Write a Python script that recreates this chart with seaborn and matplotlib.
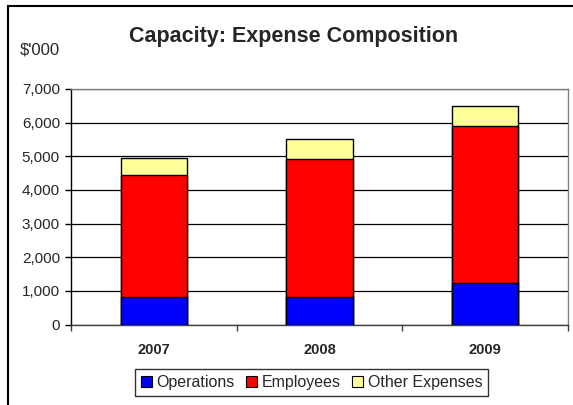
import matplotlib
matplotlib.use("Agg")
import matplotlib.pyplot as plt
import seaborn as sns
import pandas as pd
import numpy as np
from matplotlib.patches import Rectangle, Patch

years = ["2007", "2008", "2009"]
operations = [830, 830, 1230]
employees = [3610, 4090, 4670]
other_expenses = [520, 590, 600]
series_names = ["Operations", "Employees", "Other Expenses"]
colors = ["#0000FF", "#FF0000", "#FFFF99"]
yticks = [0, 1000, 2000, 3000, 4000, 5000, 6000, 7000]

sns.set_theme(style="white")
plt.rcParams["font.family"] = ["Liberation Sans", "DejaVu Sans"]

ops = np.array(operations)
emp = np.array(employees)
oth = np.array(other_expenses)
df = pd.DataFrame({
    "year": years,
    "Operations": ops,
    "Employees": ops + emp,
    "Other Expenses": ops + emp + oth,
})

fig = plt.figure(figsize=(5.73, 4.05), dpi=100)
ax = fig.add_axes([71/573, 1-324.5/405, (568-71)/573, (324.5-89)/405])

# stacked via overlay of cumulative totals (top-most first)
for name, col in zip(reversed(series_names), reversed(colors)):
    sns.barplot(data=df, x="year", y=name, color=col, width=0.40,
                edgecolor="black", linewidth=1.0, saturation=1, ax=ax, zorder=3)

ax.set_xlim(-0.5, 2.5)
ax.set_ylim(0, 7000)
ax.set_yticks(yticks)
ax.set_yticklabels([f"{v:,}" for v in yticks], fontsize=11)
ax.set_xticks(range(len(years)))
ax.set_xticklabels(years, fontsize=10.5, fontweight="bold")
ax.set_xticks([-0.5, 0.5, 1.5, 2.5], minor=True)
ax.tick_params(axis="x", which="major", length=0, pad=13)
ax.tick_params(axis="x", which="minor", length=4, width=1, color="#404040", direction="out", bottom=True)
ax.tick_params(axis="y", which="major", length=4, width=1, color="black", direction="out", left=True, pad=4)
ax.set_xlabel("")
ax.set_ylabel("")
ax.yaxis.grid(True, color="black", linewidth=0.9, zorder=0)
ax.xaxis.grid(False)
ax.set_axisbelow(True)
for s, c in [("left", "black"), ("bottom", "#404040"), ("top", "#808080"), ("right", "#808080")]:
    ax.spines[s].set_visible(True)
    ax.spines[s].set_color(c)
    ax.spines[s].set_linewidth(1.0)

# outer chart border
fig.patches.append(Rectangle((8/573, -0.1), 1.2, 1 - 6/405 + 0.1, transform=fig.transFigure,
                             fill=False, edgecolor="black", linewidth=1.5))

fig.text(293.6/573, 1-41.7/405, "Capacity: Expense Composition", ha="center", va="baseline",
         fontsize=15.5, fontweight="bold")
fig.text(20/573, 1-50/405, "$'000", ha="left", va="center", fontsize=12)

handles = [Patch(facecolor=c, edgecolor="black", linewidth=0.8) for c in colors]
leg = fig.legend(handles, series_names, loc="center", bbox_to_anchor=(311.6/573, 1-382.5/405),
                 ncol=3, fontsize=11.5, frameon=True, fancybox=False, handlelength=0.7,
                 handleheight=0.7, handletextpad=0.3, columnspacing=0.7, borderpad=0.35,
                 borderaxespad=0)
leg.get_frame().set_edgecolor("black")
leg.get_frame().set_linewidth(1.0)

fig.savefig("out.png", dpi=100)
